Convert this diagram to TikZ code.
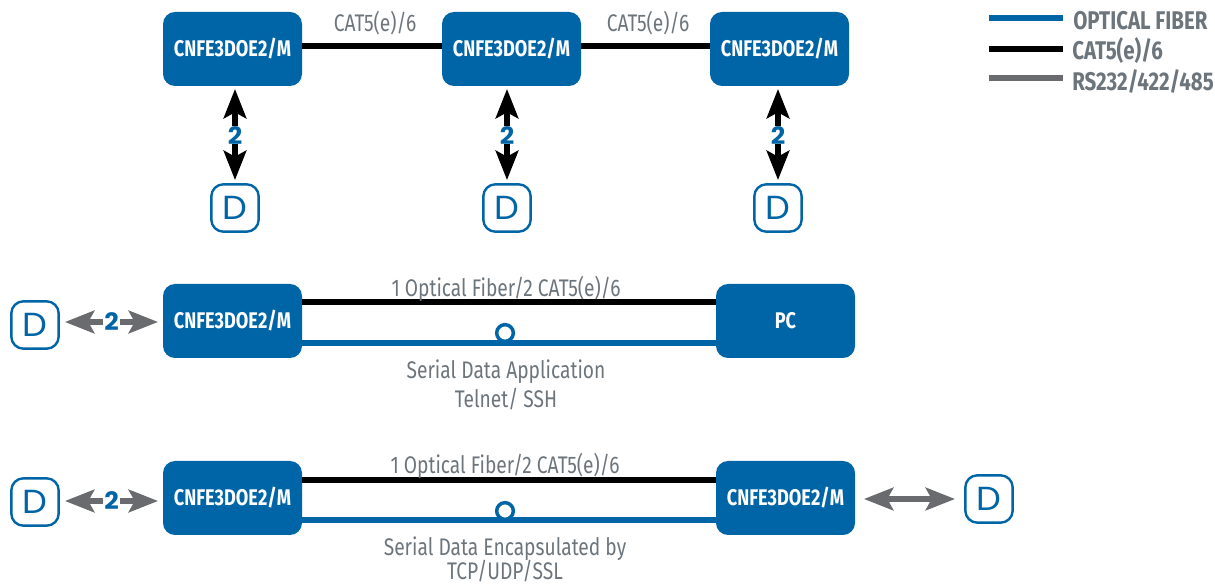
\documentclass[tikz,border=0pt]{standalone}
\usepackage{fontspec}
\setmainfont[FakeStretch=0.8]{Fira Sans}
\newfontfamily\dfont[FakeStretch=1.05]{Poppins}
\newfontfamily\nfont[FakeStretch=1.05]{Poppins}
\usetikzlibrary{arrows.meta}
\definecolor{nblue}{HTML}{0065A6}
\definecolor{ngray}{HTML}{6A6B6E}
\definecolor{ntext}{HTML}{6C757C}
\tikzset{
  x=0.75pt,y=-0.75pt,
  devbox/.style={draw=none,fill=nblue,rounded corners=9pt,minimum width=104.25pt,minimum height=55.5pt,inner sep=0,text=white,font=\fontsize{17}{19}\selectfont\bfseries},
  dbox/.style={draw=nblue,line width=1.8pt,fill=white,rounded corners=9pt,minimum width=35.5pt,minimum height=35.5pt,inner sep=0,text=nblue,font=\dfont\fontsize{25}{27}\selectfont},
  numlab/.style={fill=white,inner xsep=1pt,inner ysep=0pt,text=nblue,font=\nfont\fontsize{18}{19}\selectfont\bfseries},
  cat/.style={black,line width=4pt},
  fib/.style={nblue,line width=4pt},
  ser/.style={ngray,line width=4pt},
  dbl/.style={line width=3.8pt,{Stealth[length=22pt,width=17pt,inset=4.5pt]}-{Stealth[length=22pt,width=17pt,inset=4.5pt]}},
  lab/.style={text=ntext,font=\fontsize{18}{20}\selectfont,inner sep=0},
  leg/.style={text=ntext,anchor=west,inner sep=0,font=\fontsize{19.2}{20}\selectfont\bfseries},
  ring/.style={circle,draw=nblue,line width=2.6pt,fill=white,minimum size=12.5pt,inner sep=0},
}
\begin{document}
\begin{tikzpicture}
\useasboundingbox (0,0) rectangle (1215,584);
% top row
\node[devbox] (a1) at (232.5,49) {\raisebox{-0.7pt}{CNFE3DOE2/M}};
\node[devbox] (a2) at (511.5,49) {\raisebox{-0.7pt}{CNFE3DOE2/M}};
\node[devbox] (a3) at (779.5,49) {\raisebox{-0.7pt}{CNFE3DOE2/M}};
\node[dbox] (d1) at (235,208) {D};
\node[dbox] (d2) at (507,208) {D};
\node[dbox] (d3) at (778,208) {D};
\draw[cat] ([yshift=2.25pt]a1.east) -- ([yshift=2.25pt]a2.west);
\draw[cat] ([yshift=2.25pt]a2.east) -- ([yshift=2.25pt]a3.west);
\coordinate (t1) at (235,89); \coordinate (b1) at (235,180);
\coordinate (t2) at (507,89); \coordinate (b2) at (507,180);
\coordinate (t3) at (778,89); \coordinate (b3) at (778,180);
\draw[dbl,black] (t1) -- (b1) node[midway,numlab,yshift=-0.7pt] (n1) {2};
\draw[dbl,black] (t2) -- (b2) node[midway,numlab,yshift=-0.7pt] (n2) {2};
\draw[dbl,black] (t3) -- (b3) node[midway,numlab,yshift=-0.7pt] (n3) {2};
\node[lab] (l1) at (375,23) {CAT5(e)/6};
\node[lab] (l2) at (648,23) {CAT5(e)/6};
% row 2
\node[devbox] (b21) at (232.5,321) {\raisebox{-0.7pt}{CNFE3DOE2/M}};
\node[devbox] (pc) at (785.5,321) {\raisebox{-2pt}{PC}};
\draw[cat] ([yshift=14.25pt]b21.east) -- ([yshift=14.25pt]pc.west);
\draw[fib] ([yshift=-16.5pt]b21.east) -- ([yshift=-16.5pt]pc.west);
\node[ring] (r2) at (505,333) {};
\node[dbox] (d4) at (35,325) {D};
\coordinate (s1) at (65,322); \coordinate (e1) at (158,322);
\draw[dbl,ngray] (s1) -- (e1) node[midway,numlab] (n4) {2};
\node[lab] (l3) at (506,289) {1 Optical Fiber/2 CAT5(e)/6};
\node[lab] (l4) at (506,371.5) {Serial Data Application};
\node[lab] (l5) at (506,399) {Telnet/ SSH};
% row 3
\node[devbox] (b31) at (232.5,498) {\raisebox{-0.7pt}{CNFE3DOE2/M}};
\node[devbox] (b32) at (785.5,498) {\raisebox{-0.7pt}{CNFE3DOE2/M}};
\draw[cat] ([yshift=13.5pt]b31.east) -- ([yshift=13.5pt]b32.west);
\draw[fib] ([yshift=-16.5pt]b31.east) -- ([yshift=-16.5pt]b32.west);
\node[ring] (r3) at (505,511) {};
\node[dbox] (d5) at (35,502) {D};
\node[dbox] (d6) at (989,499) {D};
\coordinate (s2) at (65,501); \coordinate (e2) at (158,501);
\draw[dbl,ngray] (s2) -- (e2) node[midway,numlab] (n5) {2};
\coordinate (s3) at (864,499); \coordinate (e3) at (955,499);
\draw[dbl,ngray] (s3) -- (e3);
\node[lab] (l6) at (505,466) {1 Optical Fiber/2 CAT5(e)/6};
\node[lab] (l7) at (505,549) {Serial Data Encapsulated by};
\node[lab] (l8) at (505,571) {TCP/UDP/SSL};
% legend
\coordinate (la) at (989,18); \coordinate (lb) at (1063,18);
\coordinate (lc) at (989,49); \coordinate (ld) at (1063,49);
\coordinate (le) at (989,78); \coordinate (lf) at (1063,78);
\draw[fib] (la) -- (lb);
\draw[cat] (lc) -- (ld);
\draw[ser] (le) -- (lf);
\node[leg] (t4) at (1073,21) {OPTICAL FIBER};
\node[leg] (t5) at (1072,51) {CAT5(e)/6};
\node[leg] (t6) at (1072,81) {RS232/422/485};
\end{tikzpicture}
\end{document}
